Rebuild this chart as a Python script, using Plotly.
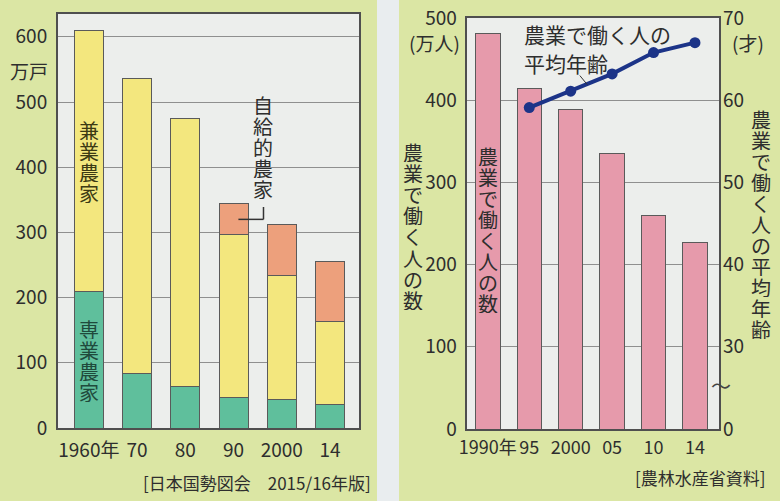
import plotly.graph_objects as go

# ---------------- data ----------------
years_left = ["1960年", "70", "80", "90", "2000", "14"]
senkyo = [209, 83, 63, 47, 43, 36]          # 専業農家 (万戸)
kengyo = [400, 453, 411, 250, 191, 128]     # 兼業農家 (万戸)
jikyu = [0, 0, 0, 47, 78, 91]               # 自給的農家 (万戸)

years_right = ["1990年", "95", "2000", "05", "10", "14"]
workers = [481, 414, 389, 335, 260, 227]    # 農業で働く人の数 (万人)
age_years = ["95", "2000", "05", "10", "14"]
avg_age = [59.1, 61.1, 63.2, 65.8, 67.0]    # 平均年齢 (才)

left_yticks = [0, 100, 200, 300, 400, 500, 600]
right_yticks = [0, 100, 200, 300, 400, 500]
age_tickvals = [20, 30, 40, 50, 60, 70]
age_ticktext = ["0", "30", "40", "50", "60", "70"]

# ---------------- style ----------------
W, H = 780, 501
FONT = "Noto Sans CJK JP"
TXT = "#2e2e2e"
PANEL = "#dbe6a4"
PLOTBG = "#eceeec"
AXC = "#4f4f4f"
GRID = "#8f8f8f"
GREEN = "#5fbf9c"
YELLOW = "#f3e77e"
ORANGE = "#eda07c"
PINK = "#e69aab"
NAVY = "#1c3488"

def px(x):
    return x / W

def py(y):
    return 1 - y / H

fig = go.Figure()

bar_line = dict(color="#5a5a5a", width=1)
fig.add_trace(go.Bar(x=years_left, y=senkyo, marker=dict(color=GREEN, line=bar_line),
                     width=0.6, xaxis="x", yaxis="y", name="専業農家"))
fig.add_trace(go.Bar(x=years_left, y=kengyo, marker=dict(color=YELLOW, line=bar_line),
                     width=0.6, xaxis="x", yaxis="y", name="兼業農家"))
fig.add_trace(go.Bar(x=years_left, y=jikyu, marker=dict(color=ORANGE, line=bar_line),
                     width=0.6, xaxis="x", yaxis="y", name="自給的農家"))

fig.add_trace(go.Bar(x=years_right, y=workers, marker=dict(color=PINK, line=bar_line),
                     width=0.59, xaxis="x2", yaxis="y2", name="農業で働く人の数"))
fig.add_trace(go.Scatter(x=age_years, y=avg_age, mode="lines+markers",
                         line=dict(color=NAVY, width=4), marker=dict(color=NAVY, size=11),
                         xaxis="x2", yaxis="y3", name="平均年齢"))

common_x = dict(showgrid=False, showline=True, mirror=True, linecolor=AXC, linewidth=2,
                ticks="", zeroline=False, fixedrange=True, type="category",
                automargin=False, tickangle=0,
                tickfont=dict(family=FONT, size=19, color=TXT))
common_y = dict(showgrid=True, gridcolor=GRID, gridwidth=1, showline=True, mirror=True,
                linecolor=AXC, linewidth=2, ticks="", zeroline=False, fixedrange=True,
                automargin=False,
                tickfont=dict(family=FONT, size=19, color=TXT))

annotations = []
shapes = []

def vtext(s, x, y, xref, yref, size=20, pitch=21, color=TXT, xshift=0):
    n = len(s)
    for i, c in enumerate(s):
        annotations.append(dict(x=x, y=y, xref=xref, yref=yref, text=c, showarrow=False,
                                xanchor="center", yanchor="middle",
                                height=pitch - 1, borderpad=0,
                                yshift=((n - 1) / 2 - i) * pitch, xshift=xshift,
                                font=dict(family=FONT, size=size, color=color)))

def htext(s, x, y, xref, yref, size=19, xanchor="center", color=TXT):
    annotations.append(dict(x=x, y=y, xref=xref, yref=yref, text=s, showarrow=False,
                            xanchor=xanchor, yanchor="middle",
                            font=dict(family=FONT, size=size, color=color)))

# left panel labels
vtext("兼業農家", "1960年", 409, "x", "y", color="#3c3a14")
vtext("専業農家", "1960年", 104, "x", "y", color="#1f4a3c")
vtext("自給的農家", 3.6, 431, "x", "y")
shapes.append(dict(type="line", xref="x", yref="y", x0=3.1, x1=3.62, y0=320, y1=320,
                   line=dict(color="#333", width=1.5)))
shapes.append(dict(type="line", xref="x", yref="y", x0=3.62, x1=3.62, y0=320, y1=339,
                   line=dict(color="#333", width=1.5)))
htext("万戸", px(29), py(70), "paper", "paper")
htext("[日本国勢図会　2015/16年版]", px(373), py(482), "paper", "paper", size=17,
      xanchor="right")

# right panel labels
vtext("農業で働く人の数", "1990年", 243, "x2", "y2")
vtext("農業で働く人の数", px(413), py(226), "paper", "paper")
vtext("農業で働く人の平均年齢", px(761), py(224), "paper", "paper")
htext("(万人)", px(434), py(42), "paper", "paper")
htext("(才)", px(748), py(42), "paper", "paper")
htext("農業で働く人の", 0.82, 481, "x2", "y2", size=21, xanchor="left")
htext("平均年齢", 0.82, 445, "x2", "y2", size=21, xanchor="left")
shapes.append(dict(type="line", xref="x2", yref="y2", x0=2.22, x1=2.4, y0=430, y1=419,
                   line=dict(color="#333", width=1)))
htext("〜", px(721), 25.3, "paper", "y3", size=20, color="#444")
htext("[農林水産省資料]", px(768), py(477), "paper", "paper", size=17, xanchor="right")

# background gap between the two panels
shapes.append(dict(type="rect", xref="paper", yref="paper", x0=px(377), x1=px(399), y0=0, y1=1,
                   fillcolor="#e9edef", line=dict(width=0), layer="below"))

fig.update_layout(
    width=W, height=H, margin=dict(l=0, r=0, t=0, b=0, autoexpand=False),
    paper_bgcolor=PANEL, plot_bgcolor=PLOTBG, barmode="stack", bargap=0.4,
    showlegend=False, font=dict(family=FONT, color=TXT),
    xaxis=dict(common_x, domain=[px(58), px(359)], anchor="y", range=[-0.64, 5.6],
               categoryorder="array", categoryarray=years_left, ticklabelstandoff=4),
    yaxis=dict(common_y, domain=[py(428), py(14)], anchor="x", range=[0, 635],
               tickvals=left_yticks, ticklabelstandoff=5),
    xaxis2=dict(common_x, domain=[px(466.7), px(719)], anchor="y2", range=[-0.51, 5.58],
                categoryorder="array", categoryarray=years_right, ticklabelstandoff=1,
                tickfont=dict(family=FONT, size=18, color=TXT)),
    yaxis2=dict(common_y, domain=[py(429), py(18)], anchor="x2", range=[0, 500],
                tickvals=right_yticks, ticklabelstandoff=4),
    yaxis3=dict(overlaying="y2", side="right", anchor="x2", range=[20, 70],
                tickvals=age_tickvals, ticktext=age_ticktext, showgrid=False,
                showline=False, zeroline=False, ticks="", fixedrange=True,
                automargin=False,
                ticklabelstandoff=3, tickfont=dict(family=FONT, size=19, color=TXT)),
    annotations=annotations, shapes=shapes,
)

fig.write_html("out.html")
